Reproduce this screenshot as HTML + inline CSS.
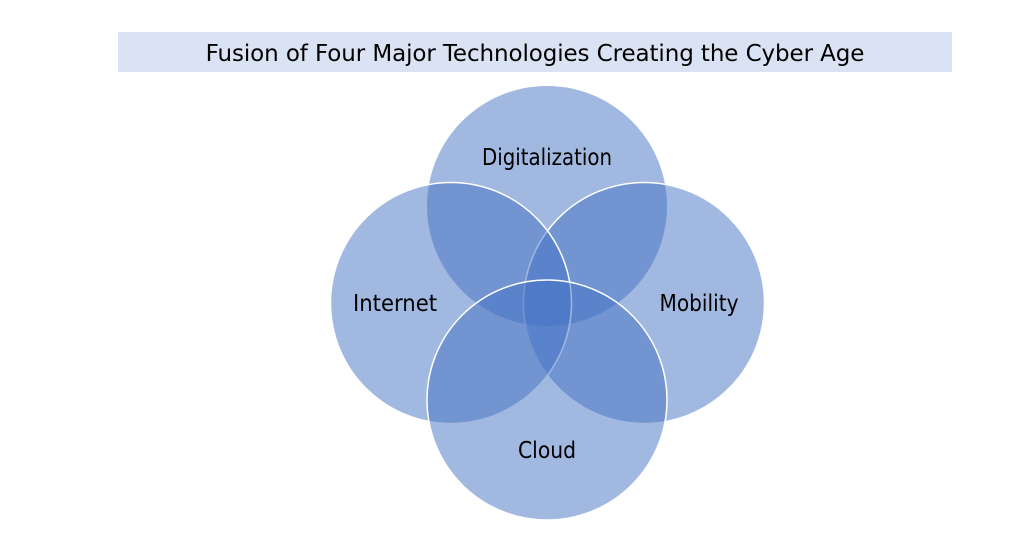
<!DOCTYPE html>
<html><head><style>
body{margin:0;width:1024px;height:537px;background:#fff;overflow:hidden;font-family:"DejaVu Sans","Liberation Sans",sans-serif;}
.t{position:absolute;left:118px;top:32px;width:834px;height:40px;background:#dae3f3;text-align:center;line-height:44px;font-size:23px;color:#000;letter-spacing:-0.1px;}
svg{position:absolute;left:0;top:0}
</style></head><body>
<div class="t">Fusion of Four Major Technologies Creating the Cyber Age</div>
<svg width="1024" height="537">
<g fill="#4472c4" fill-opacity="0.5">
<circle cx="547" cy="206" r="120"/>
<circle cx="644" cy="303" r="120.5" stroke="#fff" stroke-width="1.5"/>
<circle cx="451" cy="303" r="120.5" stroke="#fff" stroke-width="1.5"/>
<circle cx="547" cy="400" r="120" stroke="#fff" stroke-width="1.5"/>
</g>
<g font-family="DejaVu Sans, Liberation Sans, sans-serif" font-size="23" fill="#000" text-anchor="middle">
<text x="547" y="165" textLength="130" lengthAdjust="spacingAndGlyphs">Digitalization</text>
<text x="395" y="311" textLength="84" lengthAdjust="spacingAndGlyphs">Internet</text>
<text x="699" y="311" textLength="79" lengthAdjust="spacingAndGlyphs">Mobility</text>
<text x="547" y="458" textLength="58" lengthAdjust="spacingAndGlyphs">Cloud</text>
</g>
</svg>
</body></html>
